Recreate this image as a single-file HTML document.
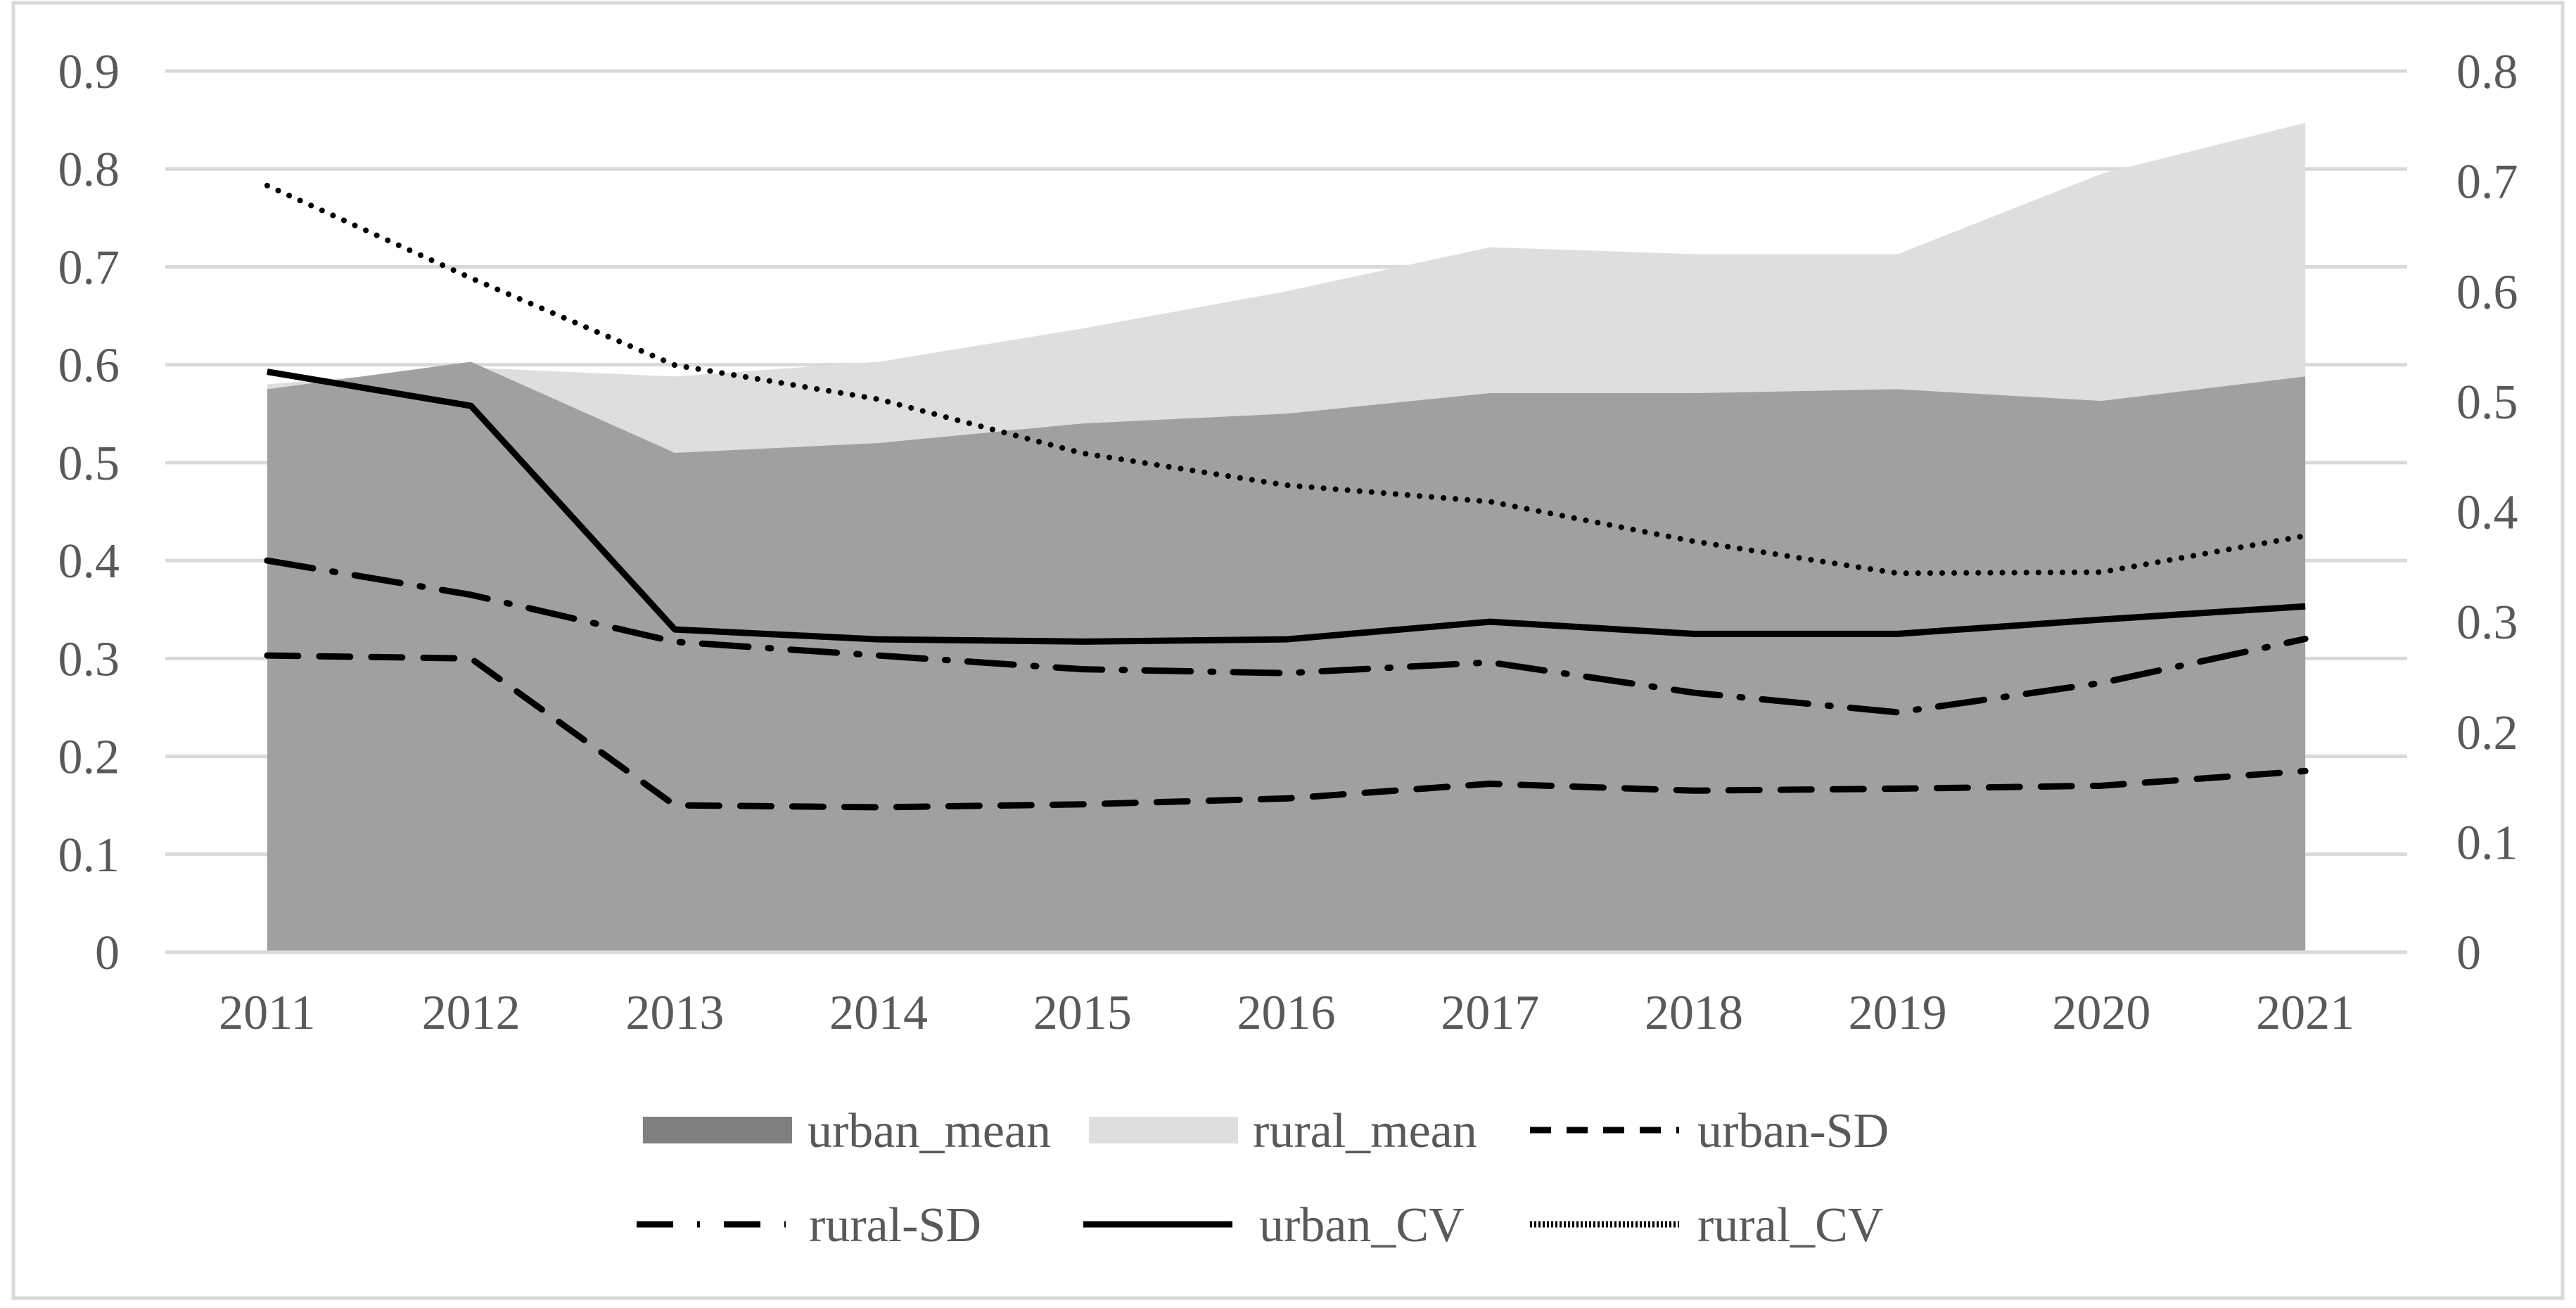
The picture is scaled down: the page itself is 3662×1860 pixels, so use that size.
<!DOCTYPE html>
<html><head><meta charset="utf-8"><style>
html,body{margin:0;padding:0;background:#fff;}
svg{display:block;font-family:"Liberation Serif",serif;}
</style></head><body>
<svg id="chart" width="3662" height="1860" viewBox="0 0 3662 1860" xmlns="http://www.w3.org/2000/svg">
<rect x="19" y="4" width="3624" height="1842" fill="none" stroke="#d9d9d9" stroke-width="5"/>
<g id="grid"></g>
<g id="areas"></g>
<g id="lines"></g>
<g id="axes"></g>
<g id="legend"></g>
</svg>
<script>
const years=["2011","2012","2013","2014","2015","2016","2017","2018","2019","2020","2021"];
const urbanMean=[0.575,0.603,0.51,0.52,0.54,0.55,0.571,0.571,0.575,0.563,0.588];
const ruralMean=[0.58,0.597,0.588,0.603,0.637,0.675,0.72,0.713,0.713,0.795,0.847];
const urbanSD=[0.303,0.3,0.15,0.148,0.151,0.157,0.172,0.165,0.167,0.17,0.185];
const ruralSD=[0.4,0.365,0.317,0.303,0.289,0.285,0.296,0.265,0.245,0.275,0.32];
const urbanCV=[0.527,0.496,0.293,0.284,0.282,0.284,0.3,0.289,0.289,0.302,0.314];
const ruralCV=[0.696,0.612,0.533,0.502,0.453,0.424,0.409,0.373,0.344,0.345,0.378];
const leftTicks=["0","0.1","0.2","0.3","0.4","0.5","0.6","0.7","0.8","0.9"];
const rightTicks=["0","0.1","0.2","0.3","0.4","0.5","0.6","0.7","0.8"];

const NS="http://www.w3.org/2000/svg";
const L=235,R=3422,T=101,B=1354;
const step=(R-L)/years.length;
const x=i=>L+step*(i+0.5);
const yL=v=>B-(B-T)*v/0.9;
const yR=v=>B-(B-T)*v/0.8;
function mk(tag,attrs,parent){const e=document.createElementNS(NS,tag);for(const k in attrs)e.setAttribute(k,attrs[k]);document.getElementById(parent).appendChild(e);return e;}

leftTicks.forEach(t=>{
  const v=parseFloat(t);
  const g=mk('line',{x1:L,x2:R,y1:yL(v),y2:yL(v),stroke:'#d9d9d9','stroke-width':5},'grid');
  
  
  const tx=mk('text',{x:170,y:yL(v)+24,'text-anchor':'end','font-size':70,fill:'#595959'},'axes');
  tx.textContent=t;
  
  
});
rightTicks.forEach(t=>{
  const v=parseFloat(t);
  const tx=mk('text',{x:3492,y:yR(v)+24,'text-anchor':'start','font-size':70,fill:'#595959'},'axes');
  tx.textContent=t;
  
  
});
years.forEach((yr,i)=>{
  const tx=mk('text',{x:x(i),y:1463,'text-anchor':'middle','font-size':70,fill:'#595959'},'axes');
  tx.textContent=yr;
  
  
});
function area(vals,fill,name){
  let d=`M${x(0)},${B}`;vals.forEach((v,i)=>d+=` L${x(i)},${yL(v)}`);d+=` L${x(vals.length-1)},${B} Z`;
  const p=mk('path',{d:d,fill:fill},'areas');
  
  
}
area(ruralMean,'#dedede','rural-mean-area');
area(urbanMean,'#a0a0a0','urban-mean-area');
function line(vals,sc,dash,w,cap,name){
  const pts=vals.map((v,i)=>`${x(i)},${sc(v)}`).join(' ');
  const a={points:pts,fill:'none',stroke:'#000','stroke-width':w,'stroke-linejoin':'round','stroke-linecap':cap};
  if(dash)a['stroke-dasharray']=dash;
  const p=mk('polyline',a,'lines');
  
  
}
line(urbanSD,yL,'44 30',9,'round','urban-sd-line');
line(ruralSD,yL,'66 28 4 28',9,'round','rural-sd-line');
line(urbanCV,yR,null,9,'butt','urban-cv-line');
line(ruralCV,yR,'0.1 17',8,'round','rural-cv-line');
const bl=mk('line',{x1:L,x2:R,y1:B,y2:B,stroke:'#d9d9d9','stroke-width':5},'axes');



const leg=[
 {n:'urban_mean',t:'rect',c:'#808080',x:914,tx:1148,y:1607},
 {n:'rural_mean',t:'rect',c:'#dedede',x:1548,tx:1781,y:1607},
 {n:'urban-SD',t:'line',dash:'30 22',x:2175,tx:2413,y:1607},
 {n:'rural-SD',t:'line',dash:'52 34 4 34',x:905,tx:1150,y:1741},
 {n:'urban_CV',t:'line',dash:null,x:1540,tx:1790,y:1741},
 {n:'rural_CV',t:'line',dash:'3 3',x:2175,tx:2413,y:1741}
];
leg.forEach(o=>{
  let s;
  if(o.t==='rect'){s=mk('rect',{x:o.x,y:o.y-19,width:212,height:38,fill:o.c},'legend');}
  else{const a={x1:o.x,x2:o.x+212,y1:o.y,y2:o.y,stroke:'#000','stroke-width':9};if(o.dash)a['stroke-dasharray']=o.dash;s=mk('line',a,'legend');}
  
  
  const tx=mk('text',{x:o.tx,y:o.y+24,'font-size':70,fill:'#595959'},'legend');
  tx.textContent=o.n;
  
  
});
</script>
</body></html>
